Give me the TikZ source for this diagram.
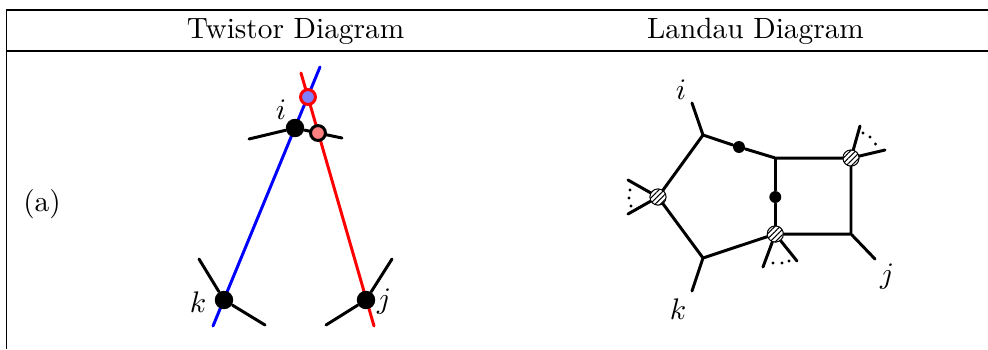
\documentclass[tikz,border=0pt]{standalone}
\usepackage{amsmath}
\usepackage{amssymb}
\usepackage{tikz}
\usepackage{xcolor}
\usetikzlibrary{patterns.meta}
\definecolor{pinkdot}{RGB}{255,128,128}
\definecolor{bluedot}{RGB}{128,128,255}
\tikzset{
  leg/.style={line width=1pt,line cap=round},
  vertexdot/.style={circle,fill=black,inner sep=0pt,minimum size=6.2pt},
  smalldot/.style={circle,fill=black,inner sep=0pt,minimum size=4pt},
  ringdot/.style={circle,draw,line width=1pt,inner sep=0pt,minimum size=5pt},
  hatchdot/.style={circle,draw,line width=0.3pt,inner sep=0pt,minimum size=5.4pt,fill=white,
    postaction={pattern={Lines[angle=45,distance=1.25pt,line width=0.35pt]}}},
  tinydot/.style={circle,fill=black,inner sep=0pt,minimum size=1.1pt},
  joint/.style={inner sep=0pt,minimum size=0pt},
  label/.style={scale=0.985},
}
\begin{document}
\begin{tikzpicture}[x=0.336pt,y=-0.336pt]
\useasboundingbox (0,0) rectangle (988,349);
% table rules
\coordinate (tl) at (6.5,10);
\coordinate (tr) at (988,10);
\coordinate (ml) at (6.5,51);
\coordinate (mr) at (988,51);
\coordinate (dl) at (6.5,349);
\draw[line width=0.4pt] (dl)--(tl)--(tr);
\draw[line width=0.4pt] (ml)--(mr);
\node[label] (twistor) at (295.5,31) {Twistor Diagram};
\node[label] (landau) at (755.5,31) {Landau Diagram};
\node[label] (rowa) at (42,204) {(a)};
% twistor diagram
\coordinate (bluetop) at (320,67);
\coordinate (blueend) at (213,326);
\coordinate (redtop) at (301,73);
\coordinate (redend) at (374,326);
\draw[leg,blue] (bluetop)--(blueend);
\draw[leg,red] (redtop)--(redend);
\node[vertexdot] (vi) at (295,128) {};
\node[vertexdot] (vk) at (224,300) {};
\node[vertexdot] (vj) at (366,300) {};
\node[ringdot,fill=pinkdot] (pk) at (318,133) {};
\node[ringdot,draw=red,fill=bluedot] (bd) at (308,97) {};
\coordinate (il) at (249,139);
\coordinate (ir) at (342,138);
\coordinate (ka) at (199,259);
\coordinate (kb) at (265,325);
\coordinate (ja) at (392,259);
\coordinate (jb) at (326,325);
\draw[leg] (il)--(vi);
\draw[leg] (vi)--(pk);
\draw[leg] (pk)--(ir);
\draw[leg] (ka)--(vk);
\draw[leg] (kb)--(vk);
\draw[leg] (ja)--(vj);
\draw[leg] (jb)--(vj);
\node (ti) at (281,110) {$i$};
\node (tk) at (198,302) {$k$};
\node (tj) at (384,302) {$j$};
% landau diagram
\node[joint] (a) at (703,135) {};
\node[smalldot] (b) at (739,147) {};
\node[joint] (c) at (775.3,158) {};
\node[hatchdot] (d) at (851,158) {};
\node[joint] (e) at (851,234) {};
\node[hatchdot] (f) at (775.3,234) {};
\node[joint] (g) at (703,258) {};
\node[hatchdot] (h) at (658,197) {};
\node[smalldot] (m) at (775.3,197) {};
\coordinate (ai) at (692,103);
\coordinate (gk) at (692,291);
\coordinate (ej) at (875,259);
\coordinate (ha) at (628,180);
\coordinate (hb) at (628,214);
\coordinate (da) at (860,126);
\coordinate (db) at (885,150);
\coordinate (fa) at (763,267);
\coordinate (fb) at (797,261);
\draw[leg,line join=round] (a)--(b)--(c)--(d)--(e)--(f)--(g)--(h)--(a);
\draw[leg] (c)--(m)--(f);
\draw[leg] (a)--(ai);
\draw[leg] (g)--(gk);
\draw[leg] (e)--(ej);
\draw[leg] (h)--(ha);
\draw[leg] (h)--(hb);
\draw[leg] (d)--(da);
\draw[leg] (d)--(db);
\draw[leg] (f)--(fa);
\draw[leg] (f)--(fb);
\node[hatchdot] at (d) {};
\node[hatchdot] at (f) {};
\node[hatchdot] at (h) {};
\foreach \px/\py in {863/133,870/137,875.5/144,773/263,782/263,789/261,630/190,629/198,631/206}
  \node[tinydot] at (\px,\py) {};
\node (li) at (681,90) {$i$};
\node (lj) at (887,277) {$j$};
\node (lk) at (678,309) {$k$};
\end{tikzpicture}
\end{document}
